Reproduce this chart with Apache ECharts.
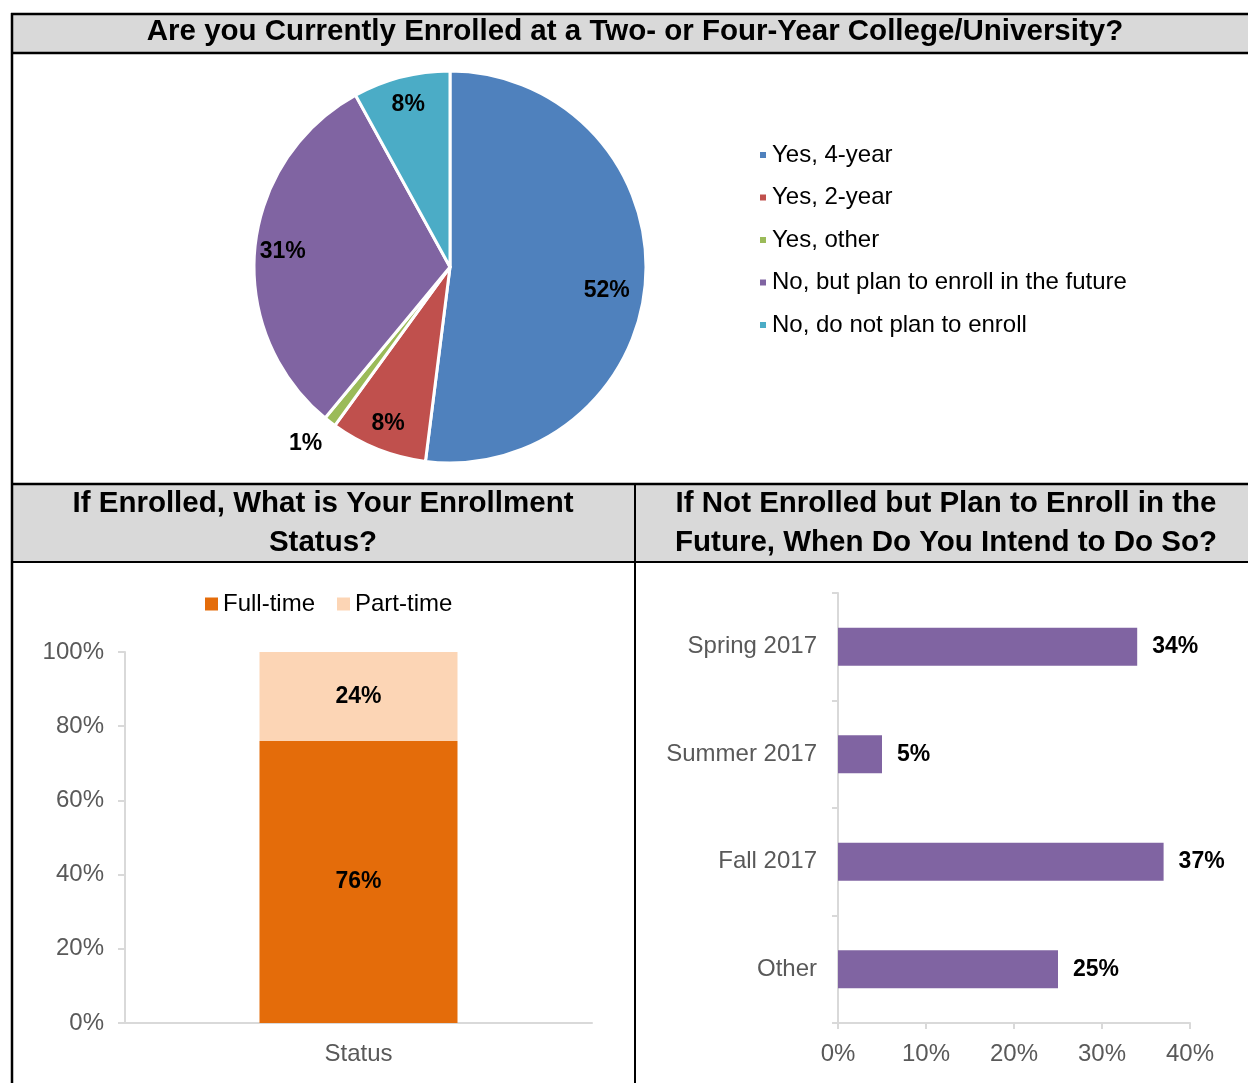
<!DOCTYPE html>
<html>
<head>
<meta charset="utf-8">
<script src="https://cdn.jsdelivr.net/npm/echarts@6/dist/echarts.min.js"></script>
<style>
  html, body { margin: 0; padding: 0; background: #fff; }
  #chart { width: 1248px; height: 1083px; }
</style>
</head>
<body>
<div id="chart"></div>
<script>
// Enrollment status (pie)
const enrollCategories = ['Yes, 4-year', 'Yes, 2-year', 'Yes, other', 'No, but plan to enroll in the future', 'No, do not plan to enroll'];
const enrollValues = [52, 8, 1, 31, 8];
const enrollColors = ['#4F81BD', '#C0504D', '#9BBB59', '#8064A2', '#4BACC6'];

// Full-time vs part-time (stacked column)
const statusCategories = ['Status'];
const fullTimeValues = [76];
const partTimeValues = [24];
const statusTicks = [0, 20, 40, 60, 80, 100];

// Intended enrollment term (horizontal bars)
const termCategories = ['Spring 2017', 'Summer 2017', 'Fall 2017', 'Other'];
const termValues = [34, 5, 37, 25];
const termTicks = [0, 10, 20, 30, 40];

const FONT = '"Liberation Sans", Arial, sans-serif';
const AXIS_GREY = '#D9D9D9';
const LABEL_GREY = '#595959';

const chart = echarts.init(document.getElementById('chart'), null, { renderer: 'canvas' });

function hline(y, x1, x2, w) {
  return { type: 'line', silent: true, shape: { x1: x1, y1: y, x2: x2, y2: y }, style: { stroke: '#000', lineWidth: w } };
}
function vline(x, y1, y2, w) {
  return { type: 'line', silent: true, shape: { x1: x, y1: y1, x2: x, y2: y2 }, style: { stroke: '#000', lineWidth: w } };
}
function header(text, x, y) {
  return {
    type: 'text', silent: true, x: x, y: y,
    style: { text: text, fill: '#000', font: 'bold 29.5px ' + FONT, align: 'center', verticalAlign: 'middle', lineHeight: 39 }
  };
}

const pieData = enrollCategories.map((n, i) => ({ name: n, value: enrollValues[i], itemStyle: { color: enrollColors[i] } }));
const pieLabelData = enrollCategories.map((n, i) => {
  const item = { name: n, value: enrollValues[i] };
  if (enrollValues[i] < 3) {
    // thin slice: label sits just outside the rim
    item.label = { position: 'outside', distanceToLabelLine: -9 };
    item.labelLine = { show: false, length: 27, length2: 0 };
  }
  return item;
});

const option = {
  animation: false,
  graphic: [
    // table bands
    { type: 'rect', silent: true, shape: { x: 12, y: 14, width: 1236, height: 39 }, style: { fill: '#D9D9D9' } },
    { type: 'rect', silent: true, shape: { x: 12, y: 484, width: 1236, height: 78 }, style: { fill: '#D9D9D9' } },
    hline(14, 11, 1248, 2.5),
    hline(53, 11, 1248, 2.3),
    hline(484, 11, 1248, 2.3),
    hline(562, 11, 1248, 2),
    vline(12, 13, 1083, 2.5),
    vline(635, 484, 1083, 2),
    header('Are you Currently Enrolled at a Two- or Four-Year College/University?', 635, 32),
    header('If Enrolled, What is Your Enrollment\nStatus?', 323, 523),
    header('If Not Enrolled but Plan to Enroll in the\nFuture, When Do You Intend to Do So?', 946, 523)
  ],
  legend: [
    {
      orient: 'vertical', left: 753, top: 138, itemWidth: 8, itemHeight: 8, itemGap: 18.5,
      icon: 'rect', data: enrollCategories, selectedMode: false,
      textStyle: { fontFamily: FONT, fontSize: 24, lineHeight: 24, color: '#000' }
    },
    {
      orient: 'horizontal', left: 200, top: 587, itemWidth: 13, itemHeight: 13, itemGap: 22,
      icon: 'rect', data: ['Full-time', 'Part-time'], selectedMode: false,
      textStyle: { fontFamily: FONT, fontSize: 24, color: '#000' }
    }
  ],
  grid: [
    { left: 125, top: 652, width: 467, height: 371, containLabel: false },
    { left: 838, top: 593, width: 352, height: 430, containLabel: false }
  ],
  xAxis: [
    {
      gridIndex: 0, type: 'category', data: statusCategories,
      axisLine: { lineStyle: { color: AXIS_GREY, width: 2 } },
      axisTick: { show: false },
      axisLabel: { color: LABEL_GREY, fontFamily: FONT, fontSize: 24, margin: 19 }
    },
    {
      gridIndex: 1, type: 'value', min: termTicks[0], max: termTicks[termTicks.length - 1], interval: termTicks[1] - termTicks[0],
      axisLine: { show: true, lineStyle: { color: AXIS_GREY, width: 2 } },
      axisTick: { show: true, length: 6, lineStyle: { color: AXIS_GREY, width: 2 } },
      splitLine: { show: false },
      axisLabel: { color: LABEL_GREY, fontFamily: FONT, fontSize: 24, margin: 19, formatter: '{value}%' }
    }
  ],
  yAxis: [
    {
      gridIndex: 0, type: 'value', min: statusTicks[0], max: statusTicks[statusTicks.length - 1], interval: statusTicks[1] - statusTicks[0],
      axisLine: { show: true, lineStyle: { color: AXIS_GREY, width: 2 } },
      axisTick: { show: true, length: 7, lineStyle: { color: AXIS_GREY, width: 2 } },
      splitLine: { show: false },
      axisLabel: { color: LABEL_GREY, fontFamily: FONT, fontSize: 24, margin: 21, formatter: '{value}%' }
    },
    {
      gridIndex: 1, type: 'category', data: termCategories, inverse: true,
      axisLine: { show: true, lineStyle: { color: AXIS_GREY, width: 2 } },
      axisTick: { show: true, length: 6, lineStyle: { color: AXIS_GREY, width: 2 } },
      axisLabel: { color: LABEL_GREY, fontFamily: FONT, fontSize: 24, margin: 21 }
    }
  ],
  series: [
    {
      name: 'Enrollment', type: 'pie', center: [450, 267], radius: [0, 196],
      startAngle: 90, clockwise: true, avoidLabelOverlap: false, silent: true,
      itemStyle: { borderColor: '#fff', borderWidth: 3 },
      label: { show: false }, labelLine: { show: false },
      data: pieData
    },
    {
      name: 'Enrollment labels', type: 'pie', center: [450, 267], radius: [134, 196],
      startAngle: 90, clockwise: true, avoidLabelOverlap: false, silent: true,
      itemStyle: { color: 'rgba(0,0,0,0)', borderWidth: 0 },
      label: { show: true, position: 'inside', formatter: '{c}%', color: '#000', fontFamily: FONT, fontSize: 23, fontWeight: 'bold' },
      labelLine: { show: false },
      // the large slice's label sits a little lower and further in
      labelLayout: function (p) { return p.dataIndex === 0 ? { dx: -11, dy: 13 } : {}; },
      data: pieLabelData
    },
    {
      name: 'Full-time', type: 'bar', xAxisIndex: 0, yAxisIndex: 0, stack: 'status', barWidth: 198,
      itemStyle: { color: '#E46C0A' },
      label: { show: true, position: 'inside', formatter: '{c}%', color: '#000', fontFamily: FONT, fontSize: 23, fontWeight: 'bold' },
      data: fullTimeValues
    },
    {
      name: 'Part-time', type: 'bar', xAxisIndex: 0, yAxisIndex: 0, stack: 'status', barWidth: 198,
      itemStyle: { color: '#FCD5B5' },
      label: { show: true, position: 'inside', formatter: '{c}%', color: '#000', fontFamily: FONT, fontSize: 23, fontWeight: 'bold' },
      data: partTimeValues
    },
    {
      name: 'Term', type: 'bar', xAxisIndex: 1, yAxisIndex: 1, barWidth: 38,
      itemStyle: { color: '#8064A2' },
      label: { show: true, position: 'right', distance: 15, formatter: '{c}%', color: '#000', fontFamily: FONT, fontSize: 23, fontWeight: 'bold' },
      data: termValues
    }
  ]
};

chart.setOption(option);
</script>
</body>
</html>
